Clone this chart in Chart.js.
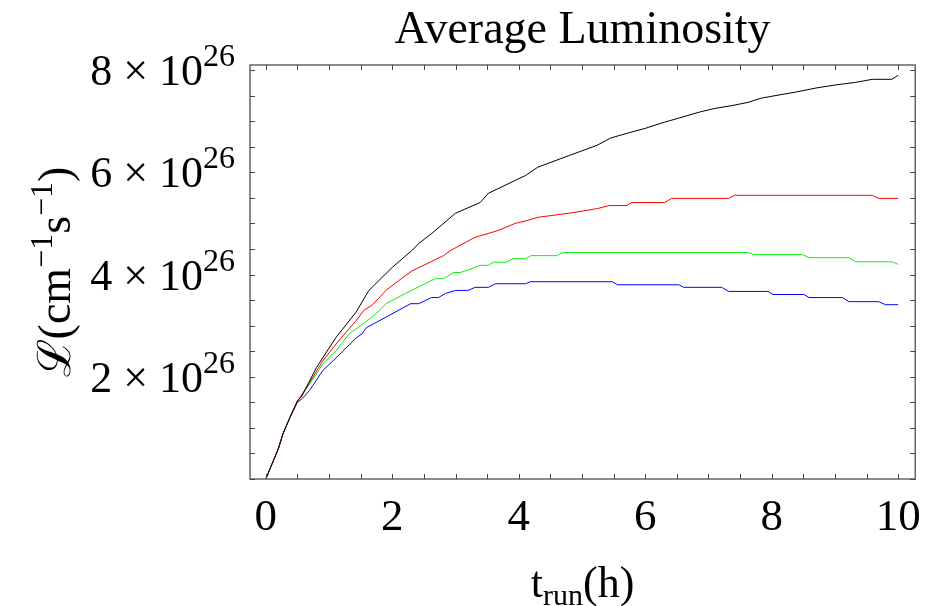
<!DOCTYPE html>
<html>
<head>
<meta charset="utf-8">
<script src="https://cdn.jsdelivr.net/npm/chart.js@4"></script>
<style>
  html, body { margin: 0; padding: 0; background: #fff; }
  #wrap { width: 933px; height: 606px; }
</style>
</head>
<body>
<div id="wrap"><canvas id="lumChart" width="933" height="606"></canvas></div>
<script>
// luminosity values are in units of 10^26 cm^-1 s^-1, time in hours
const blackT = [0, 0.2, 0.27, 0.38, 0.5, 0.57, 0.8, 1.11, 1.43, 1.63, 2.0, 2.31, 2.42, 2.62, 3.0, 3.39, 3.52, 4.11, 4.3, 4.8, 5.24, 5.45, 5.76, 6.0, 6.3, 6.53, 6.86, 7.1, 7.39, 7.63, 7.83, 8.1, 8.38, 8.7, 9.01, 9.33, 9.59, 9.9, 10];
const blackL = [0, 0.6, 0.88, 1.2, 1.53, 1.62, 2.18, 2.77, 3.27, 3.69, 4.14, 4.47, 4.61, 4.8, 5.2, 5.41, 5.59, 5.94, 6.1, 6.33, 6.53, 6.67, 6.78, 6.86, 6.98, 7.06, 7.18, 7.25, 7.31, 7.37, 7.45, 7.51, 7.57, 7.65, 7.71, 7.76, 7.82, 7.82, 7.9];

const redT = [0, 0.2, 0.27, 0.38, 0.5, 0.7, 0.9, 1.11, 1.43, 1.55, 1.68, 1.9, 2.1, 2.31, 2.81, 2.92, 3.31, 3.67, 3.94, 4.14, 4.3, 4.8, 5.24, 5.43, 5.71, 5.79, 6.31, 6.42, 7.32, 7.41, 9.59, 9.69, 10];
const redL = [0, 0.6, 0.88, 1.2, 1.52, 1.9, 2.31, 2.64, 3.1, 3.3, 3.4, 3.69, 3.88, 4.07, 4.37, 4.47, 4.73, 4.86, 5.0, 5.06, 5.12, 5.2, 5.29, 5.35, 5.35, 5.41, 5.41, 5.49, 5.49, 5.55, 5.55, 5.49, 5.49];

const greenT = [0, 0.2, 0.27, 0.38, 0.5, 0.7, 0.9, 1.11, 1.32, 1.52, 1.68, 1.79, 1.9, 2.21, 2.68, 2.81, 2.97, 3.08, 3.31, 3.39, 3.52, 3.6, 3.8, 3.91, 4.11, 4.19, 4.6, 4.7, 7.63, 7.71, 8.49, 8.59, 9.22, 9.33, 9.9, 10];
const greenL = [0, 0.6, 0.88, 1.2, 1.52, 1.87, 2.25, 2.51, 2.84, 3.02, 3.17, 3.29, 3.43, 3.63, 3.92, 3.92, 4.04, 4.04, 4.14, 4.18, 4.18, 4.24, 4.24, 4.31, 4.31, 4.37, 4.37, 4.43, 4.43, 4.39, 4.39, 4.33, 4.33, 4.25, 4.25, 4.2];

const blueT = [0, 0.2, 0.27, 0.38, 0.5, 0.58, 0.69, 0.9, 1.11, 1.43, 1.52, 1.59, 1.95, 2.29, 2.42, 2.62, 2.73, 2.84, 3.0, 3.2, 3.31, 3.52, 3.63, 4.11, 4.18, 5.48, 5.56, 6.53, 6.61, 7.21, 7.32, 7.94, 8.02, 8.51, 8.59, 9.12, 9.22, 9.69, 9.8, 10];
const blueL = [0, 0.6, 0.88, 1.2, 1.5, 1.58, 1.73, 2.12, 2.37, 2.76, 2.84, 2.96, 3.2, 3.43, 3.43, 3.55, 3.55, 3.63, 3.69, 3.69, 3.75, 3.75, 3.82, 3.82, 3.86, 3.86, 3.8, 3.8, 3.75, 3.75, 3.67, 3.67, 3.61, 3.61, 3.55, 3.55, 3.47, 3.47, 3.41, 3.41];

const yLabelValues = [2, 4, 6, 8];
const xLabelValues = [0, 2, 4, 6, 8, 10];

const serif = "'Liberation Serif', 'Times New Roman', serif";

function toPoints(ts, ls) {
  return ts.map((t, i) => ({ x: t, y: ls[i] }));
}

function series(ts, ls, color) {
  return {
    data: toPoints(ts, ls),
    borderColor: color,
    borderWidth: 1,
    pointRadius: 0,
    tension: 0,
    fill: false
  };
}

// draws pieces of text with super/subscripts; align is "center" or "right"
function richText(ctx, parts, x0, baseY, align) {
  let total = 0;
  parts.forEach(p => {
    ctx.font = p.size + "px " + serif;
    p.w = ctx.measureText(p.text).width;
    total += p.w;
  });
  let x = align === "right" ? x0 - total : x0 - total / 2;
  ctx.textAlign = "left";
  ctx.textBaseline = "alphabetic";
  parts.forEach(p => {
    ctx.font = p.size + "px " + serif;
    ctx.fillText(p.text, x, baseY + (p.dy || 0));
    x += p.w;
  });
}

function isLabel(v, list) {
  return list.some(l => Math.abs(v - l) < 1e-6);
}

const framePlugin = {
  id: "frame",
  afterDraw(chart) {
    const ctx = chart.ctx;
    const a = chart.chartArea;
    const xs = chart.scales.x;
    const ys = chart.scales.y;
    ctx.save();
    ctx.strokeStyle = "#666";
    ctx.lineWidth = 1.5;
    ctx.strokeRect(a.left, a.top, a.right - a.left, a.bottom - a.top);
    ctx.lineWidth = 1;
    ctx.strokeStyle = "#444";
    ctx.beginPath();
    xs.ticks.forEach(t => {
      const px = Math.round(xs.getPixelForValue(t.value)) + 0.5;
      ctx.moveTo(px, a.bottom); ctx.lineTo(px, a.bottom - 5);
      ctx.moveTo(px, a.top); ctx.lineTo(px, a.top + 5);
    });
    ys.ticks.forEach(t => {
      const py = Math.round(ys.getPixelForValue(t.value)) + 0.5;
      ctx.moveTo(a.left, py); ctx.lineTo(a.left + 5, py);
      ctx.moveTo(a.right, py); ctx.lineTo(a.right - 5, py);
    });
    ctx.stroke();

    ctx.fillStyle = "#000";
    // y tick labels with a proper superscript exponent
    ys.ticks.forEach(t => {
      if (!isLabel(t.value, yLabelValues)) return;
      const py = ys.getPixelForValue(t.value);
      richText(ctx, [
        { text: Math.round(t.value) + " \u00d7 10", size: 44 },
        { text: "26", size: 32, dy: -19 }
      ], a.left - 15, py + 15, "right");
    });

    const cx = (a.left + a.right) / 2;
    richText(ctx, [{ text: "Average Luminosity", size: 46 }], cx, 43);
    richText(ctx, [
      { text: "t", size: 44 },
      { text: "run", size: 30, dy: 8 },
      { text: "(h)", size: 44 }
    ], cx, 597);

    ctx.translate(70, (a.top + a.bottom) / 2);
    ctx.rotate(-Math.PI / 2);
    richText(ctx, [
      { text: "\u2112(cm", size: 46 },
      { text: "\u22121", size: 32, dy: -18 },
      { text: "s", size: 46 },
      { text: "\u22121", size: 32, dy: -18 },
      { text: ")", size: 46 }
    ], 0, 0);
    ctx.restore();
  }
};

new Chart(document.getElementById("lumChart").getContext("2d"), {
  type: "line",
  data: {
    datasets: [
      series(blackT, blackL, "#000000"),
      series(redT, redL, "#ff0000"),
      series(greenT, greenL, "#11ee11"),
      series(blueT, blueL, "#0000ff")
    ]
  },
  options: {
    responsive: false,
    animation: false,
    layout: { padding: { top: 65, right: 13, left: 0, bottom: 0 } },
    plugins: { legend: { display: false }, tooltip: { enabled: false } },
    scales: {
      x: {
        type: "linear",
        min: -0.25,
        max: 10.27,
        grid: { display: false, drawTicks: false },
        border: { display: false },
        ticks: {
          stepSize: 0.5,
          includeBounds: false,
          autoSkip: false,
          maxRotation: 0,
          padding: 12,
          color: "#000",
          font: { family: serif, size: 45 },
          callback: v => isLabel(v, xLabelValues) ? String(Math.round(v)) : ""
        },
        afterFit(scale) { scale.height = 127; }
      },
      y: {
        type: "linear",
        min: 0,
        max: 8.1,
        grid: { display: false, drawTicks: false },
        border: { display: false },
        ticks: {
          stepSize: 0.5,
          includeBounds: false,
          autoSkip: false,
          display: false
        },
        afterFit(scale) { scale.width = 250; }
      }
    }
  },
  plugins: [framePlugin]
});
</script>
</body>
</html>
